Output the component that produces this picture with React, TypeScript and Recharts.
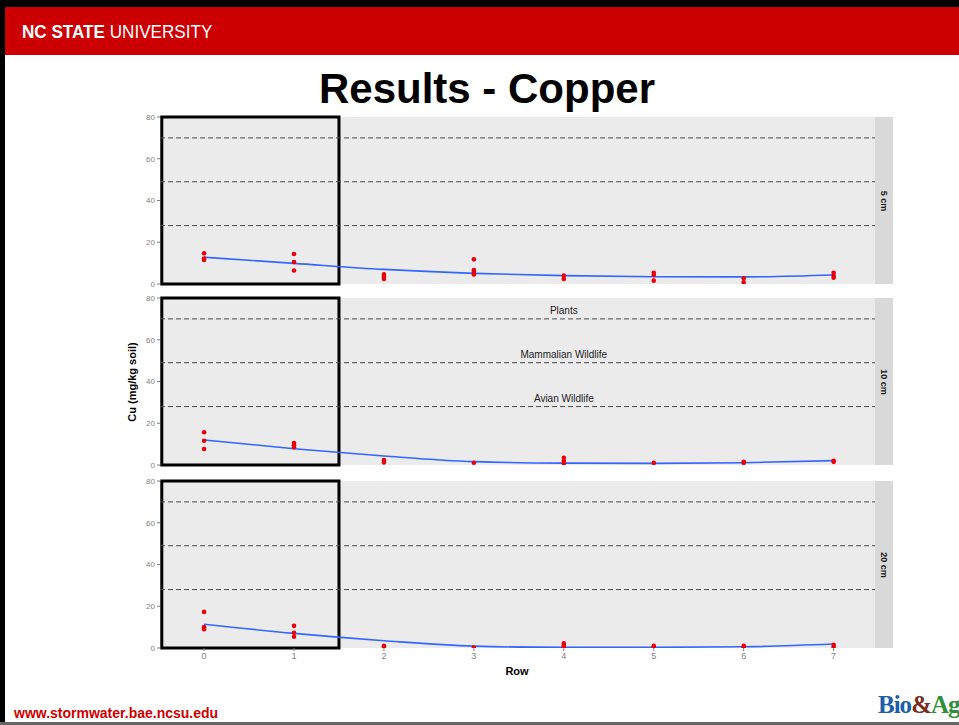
import React from 'react';
import {
  ComposedChart,
  Scatter,
  Line,
  XAxis,
  YAxis,
  CartesianGrid,
  ReferenceLine,
  ReferenceArea,
  ReferenceDot,
} from 'recharts';

// sampling rows along the swale
const ROWS = [0, 1, 2, 3, 4, 5, 6, 7];
const Y_TICKS = [0, 20, 40, 60, 80];

// soil screening thresholds (mg/kg)
const THRESHOLDS = [70, 49, 28];
const THRESHOLD_LABELS = ['Plants', 'Mammalian Wildlife', 'Avian Wildlife'];

// measured Cu per row, one list per depth
const cu5cm = [
  [14.7, 12.2, 11.5],
  [14.4, 10.5, 6.5],
  [4.6, 3.5, 2.4],
  [11.8, 6.7, 5.7, 4.6],
  [4.0, 2.4],
  [5.4, 4.3, 1.6],
  [2.7, 0.8],
  [5.4, 4.0, 3.0],
];
const cu10cm = [
  [15.7, 11.6, 7.7],
  [10.5, 9.5, 8.5],
  [2.4, 1.2],
  [1.1],
  [3.5, 2.0, 0.8],
  [1.0],
  [1.5, 1.0],
  [2.0, 1.5],
];
const cu20cm = [
  [17.3, 10.0, 9.0],
  [10.6, 7.3, 5.4],
  [1.1, 0.5],
  [0.2],
  [2.2, 1.2, 0.5],
  [1.0, 0.5],
  [1.0, 0.3],
  [1.5, 0.5],
];

// loess fit evaluated at each row
const fit5cm = [12.8, 9.9, 7.0, 5.1, 4.0, 3.5, 3.4, 4.3];
const fit10cm = [12.0, 7.8, 4.3, 1.6, 0.9, 0.8, 1.1, 2.1];
const fit20cm = [11.4, 7.0, 3.5, 0.9, 0.3, 0.3, 0.6, 1.9];

// highlighted rows (inlet end)
const BOX_ROWS = [-0.47, 1.5];

const X_DOMAIN = [-0.49, 7.46];

const PANEL_LEFT = 120;
const PANEL_W = 755;
const PANEL_H = 167;
const PAD = 6;
const GREY = '#7f7f7f';

const toPoints = (vals: number[][]) =>
  vals.flatMap((list, i) => list.map((y) => ({ x: ROWS[i], y })));
const toFit = (vals: number[]) => vals.map((y, i) => ({ x: ROWS[i], y }));

const Dot = (p: any) => <circle cx={p.cx} cy={p.cy} r={2.3} fill="#e8000b" />;

interface PanelProps {
  top: number;
  label: string;
  points: number[][];
  fit: number[];
  showX?: boolean;
  showLabels?: boolean;
}

function Panel({ top, label, points, fit, showX, showLabels }: PanelProps) {
  const axisH = 22;
  return (
    <>
      <div style={{ position: 'absolute', left: PANEL_LEFT, top: top - PAD }}>
        <ComposedChart
          width={PANEL_W}
          height={PANEL_H + PAD + (showX ? axisH : PAD)}
          margin={{ top: PAD, right: 0, bottom: showX ? 0 : PAD, left: 0 }}
        >
          <CartesianGrid horizontal={false} vertical={false} fill="#ebebeb" />
          <XAxis
            type="number"
            dataKey="x"
            domain={X_DOMAIN}
            ticks={ROWS}
            hide={!showX}
            height={axisH}
            axisLine={false}
            tickLine={{ stroke: GREY }}
            tickSize={3}
            tickMargin={2}
            tick={{ fontSize: 9, fill: GREY }}
            allowDataOverflow
          />
          <YAxis
            type="number"
            dataKey="y"
            domain={[0, 80]}
            ticks={Y_TICKS}
            width={40}
            axisLine={false}
            tickLine={{ stroke: GREY }}
            tickSize={3}
            tickMargin={2}
            tick={{ fontSize: 8, fill: GREY }}
            allowDataOverflow
          />
          {THRESHOLDS.map((t) => (
            <ReferenceLine key={t} y={t} stroke="#4d4d4d" strokeDasharray="5 3" strokeWidth={1} />
          ))}
          {showLabels &&
            THRESHOLDS.map((t, i) => (
              <ReferenceDot
                key={`lbl-${t}`}
                x={4}
                y={t + 4}
                r={0}
                fill="none"
                stroke="none"
                label={{ value: THRESHOLD_LABELS[i], position: 'center', fontSize: 10, fill: '#222' }}
              />
            ))}
          <ReferenceArea
            x1={BOX_ROWS[0]}
            x2={BOX_ROWS[1]}
            y1={0}
            y2={80}
            fill="none"
            stroke="#000"
            strokeWidth={3}
          />
          <Line
            data={toFit(fit)}
            dataKey="y"
            type="monotone"
            stroke="#3366ff"
            strokeWidth={1.6}
            dot={false}
            isAnimationActive={false}
          />
          <Scatter data={toPoints(points)} shape={Dot} isAnimationActive={false} />
        </ComposedChart>
      </div>
      <div
        style={{
          position: 'absolute',
          left: PANEL_LEFT + PANEL_W,
          top,
          width: 18,
          height: PANEL_H,
          background: '#d9d9d9',
          display: 'flex',
          alignItems: 'center',
          justifyContent: 'center',
        }}
      >
        <span
          style={{
            transform: 'rotate(90deg)',
            whiteSpace: 'nowrap',
            fontSize: 9,
            fontWeight: 'bold',
            color: '#1a1a1a',
          }}
        >
          {label}
        </span>
      </div>
    </>
  );
}

export default function App() {
  return (
    <div
      style={{
        position: 'absolute',
        left: 0,
        top: 0,
        width: 959,
        height: 725,
        overflow: 'hidden',
        background: '#fff',
        fontFamily: '"Liberation Sans", Arial, sans-serif',
      }}
    >
      {/* slide frame and header */}
      <div style={{ position: 'absolute', left: 0, top: 0, width: 959, height: 7, background: '#000' }} />
      <div style={{ position: 'absolute', left: 0, top: 0, width: 5, height: 725, background: '#000' }} />
      <div style={{ position: 'absolute', left: 5, top: 7, width: 954, height: 48, background: '#cc0000' }} />
      <div
        style={{
          position: 'absolute',
          left: 22,
          top: 21,
          color: '#fff',
          fontSize: 18,
          lineHeight: '22px',
          whiteSpace: 'nowrap',
          transform: 'scaleX(0.95)',
          transformOrigin: 'left center',
        }}
      >
        <b>NC STATE</b> UNIVERSITY
      </div>
      <div
        style={{
          position: 'absolute',
          left: 0,
          width: 974,
          top: 65,
          textAlign: 'center',
          fontSize: 42,
          fontWeight: 'bold',
          lineHeight: '48px',
          color: '#000',
        }}
      >
        Results - Copper
      </div>

      <Panel top={117} label="5 cm" points={cu5cm} fit={fit5cm} />
      <Panel top={298} label="10 cm" points={cu10cm} fit={fit10cm} showLabels />
      <Panel top={481} label="20 cm" points={cu20cm} fit={fit20cm} showX />

      <div
        style={{
          position: 'absolute',
          left: 132,
          top: 382,
          transform: 'translate(-50%, -50%) rotate(-90deg)',
          fontSize: 11,
          fontWeight: 'bold',
          whiteSpace: 'nowrap',
          color: '#000',
        }}
      >
        Cu (mg/kg soil)
      </div>
      <div
        style={{
          position: 'absolute',
          left: 517,
          top: 671,
          transform: 'translate(-50%, -50%)',
          fontSize: 11,
          fontWeight: 'bold',
          color: '#000',
        }}
      >
        Row
      </div>

      {/* footer */}
      <div style={{ position: 'absolute', left: 0, top: 722, width: 959, height: 3, background: '#666' }} />
      <div
        style={{
          position: 'absolute',
          left: 14,
          top: 705,
          color: '#cc0000',
          fontWeight: 'bold',
          fontSize: 14,
          lineHeight: '16px',
          whiteSpace: 'nowrap',
        }}
      >
        www.stormwater.bae.ncsu.edu
      </div>
      <div
        style={{
          position: 'absolute',
          left: 878,
          top: 692,
          fontFamily: '"Liberation Serif", "DejaVu Serif", serif',
          fontWeight: 'bold',
          fontSize: 25,
          lineHeight: '26px',
          whiteSpace: 'nowrap',
          letterSpacing: -1,
        }}
      >
        <span style={{ color: '#1d5fa8' }}>Bio</span>
        <span style={{ color: '#7a2d1c' }}>&amp;</span>
        <span style={{ color: '#2f8f3a' }}>Ag</span>
      </div>
    </div>
  );
}
